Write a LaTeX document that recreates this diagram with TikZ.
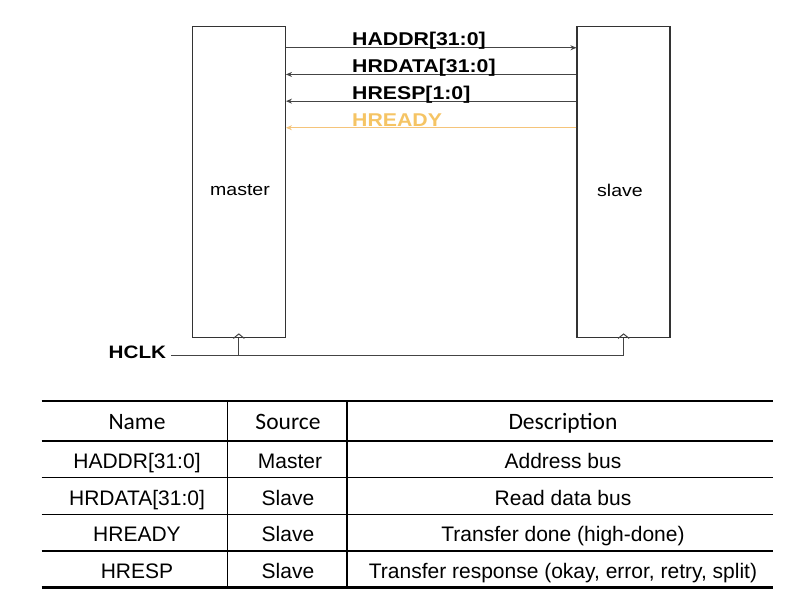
\documentclass[tikz,border=0pt]{standalone}
\usepackage{fontspec}
\setmainfont{Liberation Sans}
\newfontfamily\diagfont[FakeStretch=1.15]{Liberation Sans}
\newfontfamily\calfont{Carlito}
\usetikzlibrary{arrows.meta}
\definecolor{boxline}{HTML}{333333}
\definecolor{sigline}{HTML}{444444}
\definecolor{readyc}{HTML}{F5C464}
\definecolor{readyl}{HTML}{F5C47A}
\tikzset{
  unit box/.style={draw=boxline, line width=1.3pt, minimum width=93pt, minimum height=311pt, inner sep=0pt},
  unit label/.style={font=\diagfont\fontsize{17}{20}\selectfont, inner sep=0pt},
  sig label/.style={font=\diagfont\bfseries\fontsize{18.5}{22}\selectfont, anchor=base west, inner sep=0pt},
  sig/.style={draw=sigline, line width=1pt, -{Stealth[length=6pt,width=5pt]}},
  clk/.style={draw=sigline, line width=1pt},
  thick rule/.style={line width=2.8pt, black},
  thin rule/.style={line width=1.5pt, black},
  head text/.style={font=\calfont\fontsize{23.5}{28}\selectfont, anchor=base, inner sep=0pt},
  cell text/.style={font=\fontsize{21}{25}\selectfont, anchor=base, inner sep=0pt},
}
\begin{document}
\begin{tikzpicture}[x=1pt,y=-1pt]
\useasboundingbox (0,0) rectangle (793,605);
% boxes
\node[unit box] (master) at (238.8,182.3) {};
\node[unit box] (slave) at (623.6,182.3) {};
\node[unit label] (mlab) at (240,190) {master};
\node[unit label] (slab) at (620,190) {slave};
% signals
\draw[sig] ([yshift=-21.6pt]master.north east) -- ([yshift=-21.6pt]slave.north west);
\draw[sig] ([yshift=-48.3pt]slave.north west) -- ([yshift=-48.3pt]master.north east);
\draw[sig] ([yshift=-75pt]slave.north west) -- ([yshift=-75pt]master.north east);
\draw[sig, draw=readyl, line width=1pt] ([yshift=-101.6pt]slave.north west) -- ([yshift=-101.6pt]master.north east);
\node[sig label] (l1) at (352,45.8) {HADDR[31:0]};
\node[sig label] (l2) at (352,72.8) {HRDATA[31:0]};
\node[sig label] (l3) at (352,99.4) {HRESP[1:0]};
\node[sig label, text=readyc] (l4) at (352,126) {HREADY};
% clock
\node[font=\diagfont\bfseries\fontsize{18}{22}\selectfont, anchor=base west, inner sep=0pt] (hclk) at (108.5,358.2) {HCLK};
\coordinate (hline) at ([xshift=5pt,yshift=2.5pt]hclk.base east);
\draw[clk] (hline) -| (slave.south);
\draw[clk] (master.south) -- (master.south |- hline);
\draw[clk] ([xshift=-5.5pt]master.south) -- ([yshift=4.5pt]master.south) -- ([xshift=5.5pt]master.south);
\draw[clk] ([xshift=-5.5pt]slave.south) -- ([yshift=4.5pt]slave.south) -- ([xshift=5.5pt]slave.south);
% table
\draw[thick rule] (41.7,401) -- (773.3,401);
\draw[thick rule] (41.7,441) -- (773.3,441);
\draw[thin rule] (41.7,477.7) -- (773.3,477.7);
\draw[thin rule] (41.7,514.3) -- (773.3,514.3);
\draw[thin rule] (41.7,551) -- (773.3,551);
\draw[thick rule] (41.7,587.3) -- (773.3,587.3);
\draw[thin rule] (227.3,401) -- (227.3,587.3);
\draw[thin rule] (347,401) -- (347,587.3);
\node[head text] (h1) at (137,429) {Name};
\node[head text] (h2) at (288,429) {Source};
\node[head text] (h3) at (563,429) {Description};
\node[cell text] (a1) at (137,468.3) {HADDR[31:0]};
\node[cell text] (a2) at (290,468.3) {Master};
\node[cell text] (a3) at (563,468.3) {Address bus};
\node[cell text] (b1) at (137,505) {HRDATA[31:0]};
\node[cell text] (b2) at (288,505) {Slave};
\node[cell text] (b3) at (563,505) {Read data bus};
\node[cell text] (c1) at (137,541.7) {HREADY};
\node[cell text] (c2) at (288,541.7) {Slave};
\node[cell text] (c3) at (563,541.7) {Transfer done (high-done)};
\node[cell text] (d1) at (137,578.3) {HRESP};
\node[cell text] (d2) at (288,578.3) {Slave};
\node[cell text] (d3) at (563,578.3) {Transfer response (okay, error, retry, split)};
\end{tikzpicture}
\end{document}
